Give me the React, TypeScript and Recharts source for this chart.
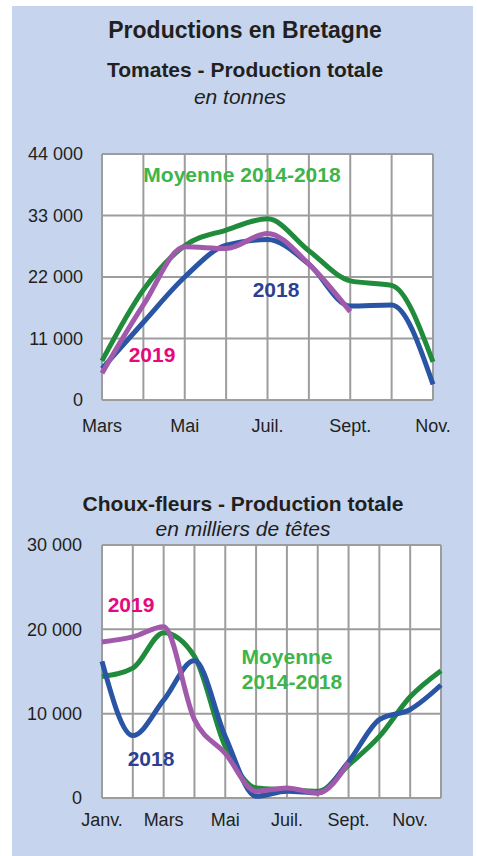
import { LineChart, Line, XAxis, YAxis, CartesianGrid } from 'recharts';

// Tomates (tonnes), mars -> novembre
const tomMonths = ['Mars', 'Avr.', 'Mai', 'Juin', 'Juil.', 'Août', 'Sept.', 'Oct.', 'Nov.'];
const tomMoyenne = [7000, 19700, 27600, 30400, 32400, 26700, 21300, 20500, 6800];
const tom2018 = [5600, 13900, 22000, 27700, 28700, 24300, 16800, 17000, 2800];
const tom2019 = [4800, 17000, 27400, 27100, 29800, 24300, 15800, null, null];
const tomTicks = [0, 11000, 22000, 33000, 44000];

// Choux-fleurs (milliers de têtes), janvier -> décembre
const chouMonths = ['Janv.', 'Févr.', 'Mars', 'Avr.', 'Mai', 'Juin', 'Juil.', 'Août', 'Sept.', 'Oct.', 'Nov.', 'Déc.'];
const chouMoyenne = [14400, 15400, 19600, 16800, 6100, 1200, 1000, 800, 3900, 7300, 12000, 15100];
const chou2018 = [16200, 7400, 11600, 16300, 7300, 200, 800, 600, 4300, 9300, 10500, 13400];
const chou2019 = [18500, 19100, 20300, 9300, 5300, 800, 1200, 600, 4200, null, null, null];
const chouTicks = [0, 10000, 20000, 30000];

const C = {
  panel: '#c6d5ed',
  text: '#231f20',
  grid: '#9d9d9d',
  green: '#1f8b3b',
  greenText: '#3db54a',
  blue: '#2a55a5',
  blueText: '#2e3f93',
  purple: '#a15aab',
  magenta: '#e5087e',
};

const FONT = '"Liberation Sans", Arial, sans-serif';

const fmt = (v: number) => String(v).replace(/\B(?=(\d{3})+(?!\d))/g, ' ');

function build(months: string[], moy: (number | null)[], y18: (number | null)[], y19: (number | null)[]) {
  return months.map((m, i) => ({ month: m, moyenne: moy[i], y2018: y18[i], y2019: y19[i] }));
}

const tomData = build(tomMonths, tomMoyenne, tom2018, tom2019);
const chouData = build(chouMonths, chouMoyenne, chou2018, chou2019);

function Txt({ x, y, size, color, bold, italic, children }: any) {
  return (
    <div
      style={{
        position: 'absolute',
        left: x,
        top: y,
        transform: 'translate(-50%, -50%)',
        fontSize: size,
        lineHeight: 1,
        whiteSpace: 'nowrap',
        color,
        fontWeight: bold ? 'bold' : 'normal',
        fontStyle: italic ? 'italic' : 'normal',
        fontFamily: FONT,
      }}
    >
      {children}
    </div>
  );
}

function Panel({ data, months, ticks, max, width, height, margin, labelRight, labelTop }: any) {
  const yTick = (p: any) => (
    <text x={labelRight} y={p.y} dy="0.355em" textAnchor="end" fill={C.text} fontSize={18} fontFamily={FONT}>
      {fmt(p.payload.value)}
    </text>
  );
  const xTick = (p: any) => {
    const i = months.indexOf(p.payload.value);
    if (i % 2 !== 0) return <g />;
    return (
      <text x={p.x} y={labelTop} dy="0.71em" textAnchor="middle" fill={C.text} fontSize={18} fontFamily={FONT}>
        {p.payload.value}
      </text>
    );
  };
  return (
    <LineChart width={width} height={height} data={data} margin={margin}>
      <CartesianGrid stroke={C.grid} strokeWidth={2} fill="#ffffff" fillOpacity={1} />
      <XAxis dataKey="month" interval={0} axisLine={false} tickLine={false} height={40} tick={xTick} />
      <YAxis domain={[0, max]} ticks={ticks} width={102} axisLine={false} tickLine={false} tick={yTick} />
      <Line type="monotone" dataKey="moyenne" stroke={C.green} strokeWidth={5} dot={false} isAnimationActive={false} />
      <Line type="monotone" dataKey="y2018" stroke={C.blue} strokeWidth={5} dot={false} isAnimationActive={false} />
      <Line type="monotone" dataKey="y2019" stroke={C.purple} strokeWidth={5} dot={false} isAnimationActive={false} />
    </LineChart>
  );
}

export default function App() {
  return (
    <div style={{ position: 'absolute', left: 0, top: 0, width: 477, height: 856, background: '#fff', overflow: 'hidden' }}>
      <div style={{ position: 'absolute', left: 12, top: 6, width: 461, height: 850, background: C.panel }} />

      <Txt x={245} y={30} size={23} color={C.text} bold>Productions en Bretagne</Txt>
      <Txt x={245} y={69} size={21} color={C.text} bold>Tomates - Production totale</Txt>
      <Txt x={240} y={96} size={21} color={C.text} italic>en tonnes</Txt>

      <div style={{ position: 'absolute', left: 0, top: 130 }}>
        <Panel
          data={tomData}
          months={tomMonths}
          ticks={tomTicks}
          max={44000}
          width={477}
          height={310}
          margin={{ top: 24, right: 44, bottom: 0, left: 0 }}
          labelRight={83}
          labelTop={289}
        />
      </div>
      <Txt x={242} y={174} size={21} color={C.greenText} bold>Moyenne 2014-2018</Txt>
      <Txt x={276} y={289} size={21} color={C.blueText} bold>2018</Txt>
      <Txt x={152} y={354} size={21} color={C.magenta} bold>2019</Txt>

      <Txt x={243} y={503} size={21} color={C.text} bold>Choux-fleurs - Production totale</Txt>
      <Txt x={243} y={528} size={21} color={C.text} italic>en milliers de têtes</Txt>

      <div style={{ position: 'absolute', left: 0, top: 480 }}>
        <Panel
          data={chouData}
          months={chouMonths}
          ticks={chouTicks}
          max={30000}
          width={477}
          height={360}
          margin={{ top: 65, right: 36, bottom: 2, left: 0 }}
          labelRight={82}
          labelTop={333}
        />
      </div>
      <Txt x={131} y={604} size={21} color={C.magenta} bold>2019</Txt>
      <Txt x={287} y={656} size={21} color={C.greenText} bold>Moyenne</Txt>
      <Txt x={292} y={681} size={21} color={C.greenText} bold>2014-2018</Txt>
      <Txt x={151} y={758} size={21} color={C.blueText} bold>2018</Txt>
    </div>
  );
}
